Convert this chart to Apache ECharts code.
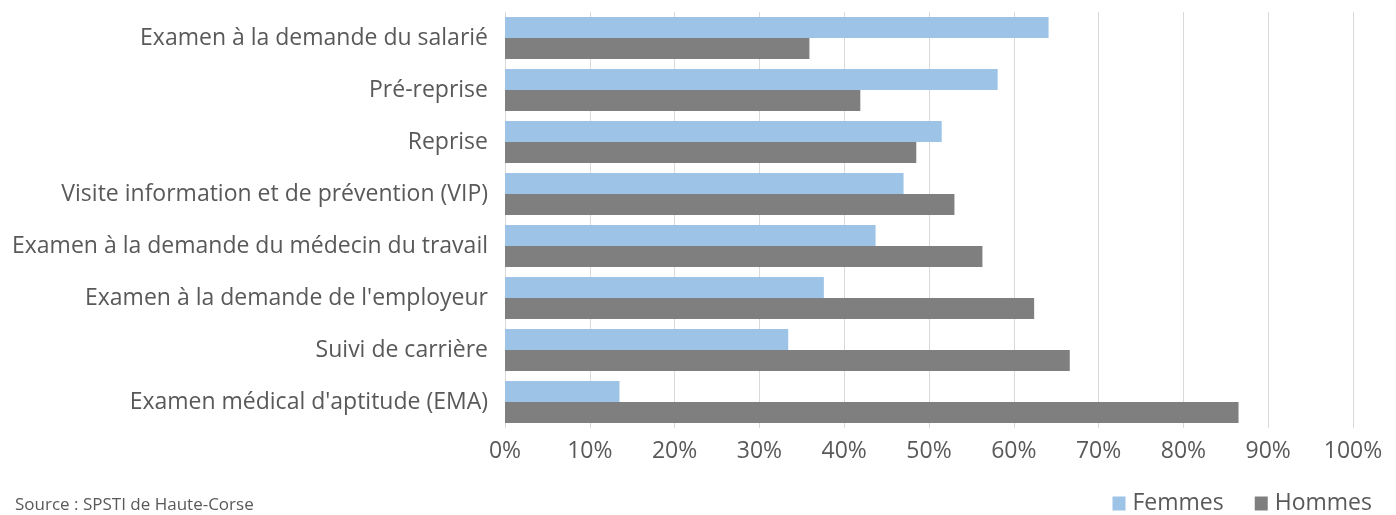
<!DOCTYPE html>
<html>
<head>
<meta charset="utf-8">
<script src="https://cdn.jsdelivr.net/npm/echarts@6/dist/echarts.min.js"></script>
<style>
  html, body { margin: 0; padding: 0; background: #fff; }
  #chart { width: 1396px; height: 515px; }
</style>
</head>
<body>
<div id="chart"></div>
<script>
const categories = [
  "Examen à la demande du salarié",
  "Pré-reprise",
  "Reprise",
  "Visite information et de prévention (VIP)",
  "Examen à la demande du médecin du travail",
  "Examen à la demande de l'employeur",
  "Suivi de carrière",
  "Examen médical d'aptitude (EMA)"
];
const femmes = [64.1, 58.1, 51.5, 47.0, 43.7, 37.6, 33.4, 13.5];
const hommes = [35.9, 41.9, 48.5, 53.0, 56.3, 62.4, 66.6, 86.5];
const sourceText = "Source : SPSTI de Haute-Corse";

const font = "Open Sans";
const textColor = "#595959";

let chart = echarts.init(document.getElementById("chart"));
let option = {
  animation: false,
  textStyle: { fontFamily: font },
  grid: { left: 505, right: 43, top: 12, bottom: 87 },
  legend: {
    right: 24,
    top: 492,
    padding: 0,
    icon: "rect",
    itemWidth: 13,
    itemHeight: 14,
    itemGap: 31,
    textStyle: { color: textColor, fontSize: 23, fontFamily: font, padding: [0, 0, 0, 2] }
  },
  graphic: [{
    type: "text",
    left: 15,
    top: 497,
    style: { text: sourceText, fill: textColor, font: "17px " + font }
  }],
  xAxis: {
    type: "value",
    min: 0,
    max: 100,
    interval: 10,
    axisLine: { show: false },
    axisTick: { show: false },
    axisLabel: { formatter: "{value}%", color: textColor, fontSize: 23, margin: 12 },
    splitLine: { show: true, lineStyle: { color: "#d9d9d9", width: 1 } }
  },
  yAxis: {
    type: "category",
    inverse: true,
    data: categories,
    axisLine: { show: false },
    axisTick: { show: false },
    axisLabel: { color: textColor, fontSize: 23, margin: 17 }
  },
  series: [
    {
      name: "Femmes", type: "bar", data: femmes,
      barGap: "0%", barCategoryGap: "19%",
      itemStyle: { color: "#9dc3e6" }
    },
    {
      name: "Hommes", type: "bar", data: hommes,
      barGap: "0%", barCategoryGap: "19%",
      itemStyle: { color: "#7f7f7f" }
    }
  ]
};
chart.setOption(option);
window.addEventListener("resize", () => { chart.resize(); });
</script>
</body>
</html>
